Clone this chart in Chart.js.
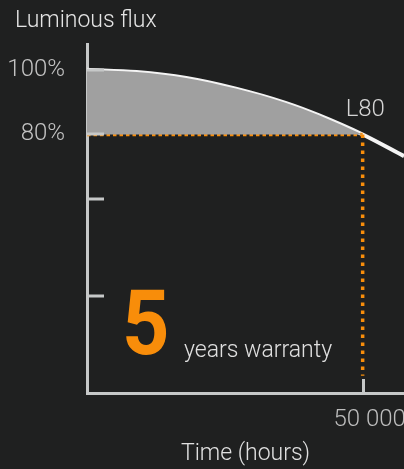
<!DOCTYPE html>
<html>
<head>
<meta charset="utf-8">
<script src="https://cdn.jsdelivr.net/npm/chart.js@4"></script>
<style>
  html, body { margin: 0; padding: 0; background: #1f2020; }
  #wrap { width: 404px; height: 469px; position: relative; }
</style>
</head>
<body>
<div id="wrap"><canvas id="c" width="404" height="469"></canvas></div>
<script>
// ---- data ----
const hours = [0, 9000, 18000, 27000, 36000, 42000, 50000, 57500];
const flux = [100, 99.3, 97.5, 94.2, 89.8, 86.0, 80, 73.3];
const warrantyHours = 50000;
const l80Level = 80;
const dropEnd = 5.3;
const yTickValues = [100, 80, 60, 30];
const yTickLabels = ['100%', '80%', '', ''];
const xTickValues = [50000];
const xTickLabels = ['50 000'];
const yTitle = 'Luminous flux';
const xTitle = 'Time (hours)';
const pointLabel = 'L80';
const warrantyYears = '5';
const warrantyText = 'years warranty';

const AXIS = '#c6c8c8';
const ORANGE = '#f88d0a';

const curve = hours.map((h, i) => ({ x: h, y: flux[i] }));
const fillPts = curve.filter(p => p.x <= warrantyHours);
const guide = [
  { x: 0, y: l80Level },
  { x: warrantyHours, y: l80Level },
  { x: warrantyHours, y: dropEnd }
];

const overlay = {
  id: 'overlay',
  afterDraw(chart) {
    const { ctx, chartArea: a, scales: { x, y } } = chart;
    ctx.save();
    // inward ticks
    ctx.strokeStyle = AXIS;
    ctx.lineWidth = 3;
    ctx.lineCap = 'butt';
    yTickValues.forEach(v => {
      const py = Math.round(y.getPixelForValue(v));
      ctx.beginPath();
      ctx.moveTo(a.left, py);
      ctx.lineTo(a.left + 17, py);
      ctx.stroke();
    });
    xTickValues.forEach(v => {
      const px = Math.round(x.getPixelForValue(v)) + 0.5;
      ctx.beginPath();
      ctx.moveTo(px, a.bottom);
      ctx.lineTo(px, a.bottom - 14);
      ctx.stroke();
    });
    // texts
    ctx.textBaseline = 'alphabetic';
    ctx.fillStyle = '#e4e4e4';
    ctx.font = '300 23px Roboto';
    ctx.textAlign = 'left';
    ctx.fillText(yTitle, 15, 27);
    ctx.fillStyle = '#d4d4d4';
    ctx.font = '300 24px Roboto';
    ctx.fillText(pointLabel, x.getPixelForValue(warrantyHours) - 17, y.getPixelForValue(l80Level) - 18);
    // warranty
    ctx.fillStyle = ORANGE;
    ctx.font = '700 90px Roboto';
    ctx.save();
    ctx.translate(122, 354);
    ctx.scale(0.92, 1);
    ctx.fillText(warrantyYears, 0, 0);
    ctx.restore();
    ctx.fillStyle = '#e0e0e0';
    ctx.font = '300 23px Roboto';
    ctx.fillText(warrantyText, 184, 357);
    ctx.restore();
  }
};

new Chart(document.getElementById('c'), {
  type: 'scatter',
  data: {
    datasets: [
      {
        data: fillPts,
        showLine: true,
        borderWidth: 0,
        borderColor: 'rgba(0,0,0,0)',
        backgroundColor: '#a0a0a0',
        pointRadius: 0,
        cubicInterpolationMode: 'monotone',
        fill: { value: l80Level }
      },
      {
        data: guide,
        showLine: true,
        borderColor: ORANGE,
        borderWidth: 3.5,
        borderDash: [3.5, 3],
        segment: { borderDash: c => (c.p0DataIndex === 1 ? [3.5, 4.5] : [3.5, 3]) },
        pointRadius: 0,
        tension: 0,
        fill: false
      },
      {
        data: curve,
        showLine: true,
        borderColor: '#f4f4f4',
        borderWidth: 4,
        pointRadius: 0,
        cubicInterpolationMode: 'monotone',
        fill: false
      }
    ]
  },
  options: {
    responsive: false,
    animation: false,
    devicePixelRatio: 1,
    layout: { padding: { top: 44, right: 0, left: 0, bottom: 0 } },
    plugins: { legend: { display: false }, tooltip: { enabled: false }, title: { display: false } },
    scales: {
      x: {
        type: 'linear',
        min: 0,
        max: 57500,
        afterBuildTicks: s => { s.ticks = xTickValues.map(v => ({ value: v })); },
        afterFit: s => { s.height = 76; s.paddingRight = 0; s.paddingLeft = 0; },
        ticks: {
          callback: (v, i) => xTickLabels[i],
          color: '#bdbdbd',
          font: { family: 'Roboto', weight: '300', size: 24 },
          padding: 13,
          labelOffset: 7,
          maxRotation: 0,
          autoSkip: false
        },
        grid: { drawOnChartArea: false, drawTicks: false },
        border: { color: AXIS, width: 3 },
        title: {
          display: true,
          text: xTitle,
          color: '#e0e0e0',
          font: { family: 'Roboto', weight: '300', size: 23 },
          padding: { top: 0, bottom: 1 }
        }
      },
      y: {
        type: 'linear',
        min: 0,
        max: 108,
        afterBuildTicks: s => { s.ticks = yTickValues.map(v => ({ value: v })); },
        afterFit: s => { s.width = 87; s.paddingTop = 0; s.paddingBottom = 0; },
        ticks: {
          callback: (v, i) => yTickLabels[i],
          color: '#c2c2c2',
          font: { family: 'Roboto', weight: '300', size: 24 },
          padding: 22,
          autoSkip: false
        },
        grid: { drawOnChartArea: false, drawTicks: false },
        border: { color: AXIS, width: 3 }
      }
    }
  },
  plugins: [overlay]
});
</script>
</body>
</html>
